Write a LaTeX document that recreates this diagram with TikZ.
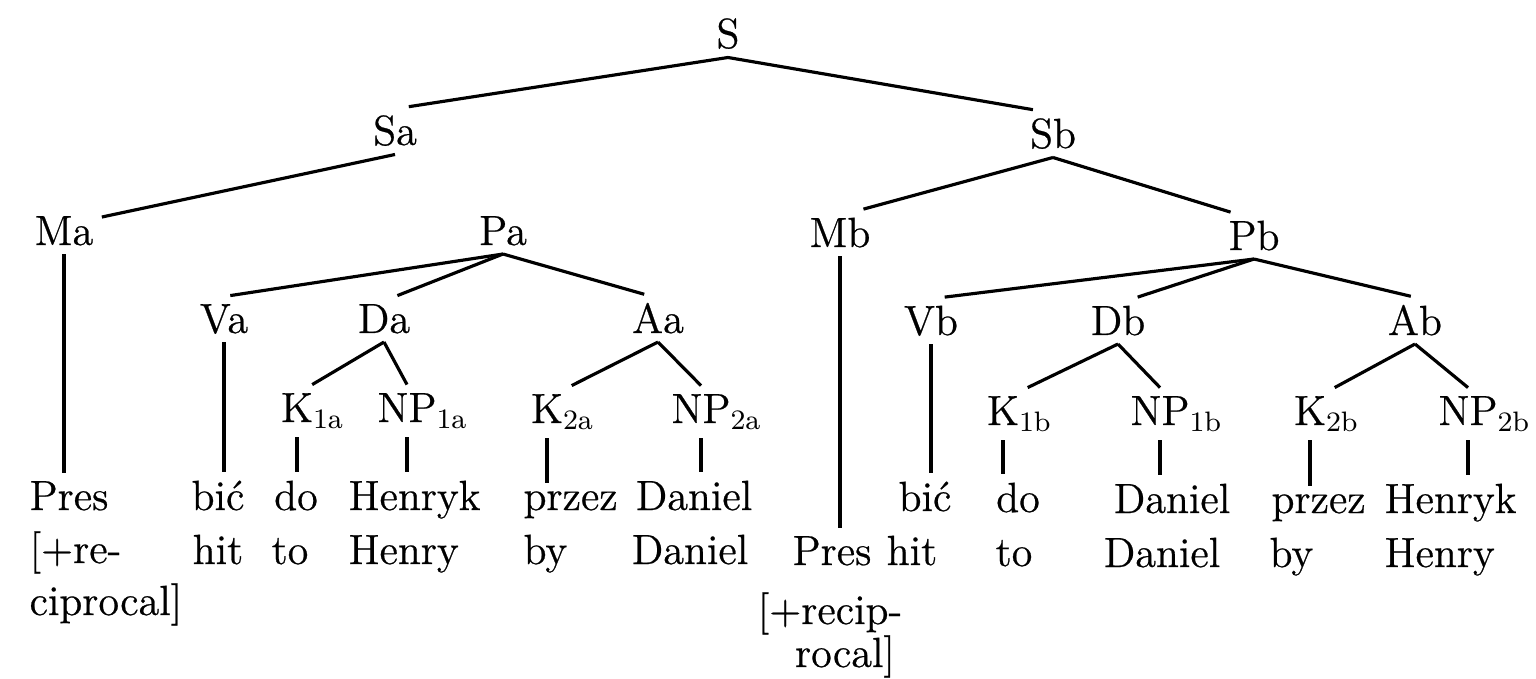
\documentclass[tikz,border=0pt]{standalone}
\usepackage{fontspec}
\usepackage{tikz}
\newfontfamily\scanfont{lmroman12-regular.otf}[FakeBold=0.6]
\newcommand{\lsub}[1]{\rlap{$_{\mathrm{#1}}$}}

\begin{document}
\begin{tikzpicture}[line width=0.9pt,
  lbl/.style={anchor=base, inner sep=2pt, font=\fontsize{12}{14}\scanfont},
  lft/.style={lbl, anchor=base west}]
\useasboundingbox (0,0) rectangle (15.36,-6.79);
% upper tree
\node[lbl] (S) at (7.28,-0.48) {S};
\node[lbl] (Sa) at (3.95,-1.45) {Sa};
\node[lbl] (Sb) at (10.53,-1.48) {Sb};
\node[lbl] (Ma) at (0.64,-2.45) {Ma};
\node[lbl] (Pa) at (5.03,-2.45) {Pa};
\node[lbl] (Mb) at (8.40,-2.47) {Mb};
\node[lbl] (Pb) at (12.54,-2.50) {Pb};
\node[lbl] (Va) at (2.24,-3.33) {Va};
\node[lbl] (Da) at (3.84,-3.33) {Da};
\node[lbl] (Aa) at (6.58,-3.33) {Aa};
\node[lbl] (Vb) at (9.31,-3.35) {Vb};
\node[lbl] (Db) at (11.18,-3.35) {Db};
\node[lbl] (Ab) at (14.15,-3.35) {Ab};
\node[lbl] (K1a) at (2.97,-4.22) {K\lsub{1a}};
\node[lbl] (NP1a) at (4.07,-4.22) {NP\lsub{1a}};
\node[lbl] (K2a) at (5.47,-4.23) {K\lsub{2a}};
\node[lbl] (NP2a) at (7.01,-4.23) {NP\lsub{2a}};
\node[lbl] (K1b) at (10.03,-4.25) {K\lsub{1b}};
\node[lbl] (NP1b) at (11.60,-4.25) {NP\lsub{1b}};
\node[lbl] (K2b) at (13.10,-4.25) {K\lsub{2b}};
\node[lbl] (NP2b) at (14.68,-4.25) {NP\lsub{2b}};
% words and glosses
\node[lft] (PresA) at (0.21,-5.10) {Pres};
\node[lft] (recA) at (0.21,-5.63) {[+re-};
\node[lft] (cipA) at (0.21,-6.15) {ciprocal]};
\node[lbl] (bicA) at (2.18,-5.10) {bić};
\node[lbl] (hitA) at (2.18,-5.64) {hit};
\node[lbl] (doA) at (2.96,-5.10) {do};
\node[lbl] (toA) at (2.90,-5.64) {to};
\node[lft] (HenrykA) at (3.40,-5.10) {Henryk};
\node[lft] (HenryA) at (3.40,-5.64) {Henry};
\node[lft] (przezA) at (5.15,-5.10) {przez};
\node[lft] (byA) at (5.15,-5.64) {by};
\node[lbl] (DanielA) at (6.94,-5.10) {Daniel};
\node[lbl] (DanglA) at (6.90,-5.64) {Daniel};
\node[lbl] (PresB) at (8.32,-5.65) {Pres};
\node[lbl] (recB) at (8.30,-6.24) {[+recip-};
\node[lbl] (cipB) at (8.45,-6.67) {rocal]};
\node[lbl] (bicB) at (9.25,-5.11) {bić};
\node[lbl] (hitB) at (9.12,-5.65) {hit};
\node[lbl] (doB) at (10.18,-5.12) {do};
\node[lbl] (toB) at (10.14,-5.66) {to};
\node[lbl] (DanielB) at (11.72,-5.13) {Daniel};
\node[lbl] (DanglB) at (11.62,-5.67) {Daniel};
\node[lft] (przezB) at (12.63,-5.13) {przez};
\node[lft] (byB) at (12.61,-5.67) {by};
\node[lft] (HenrykB) at (13.76,-5.13) {Henryk};
\node[lft] (HenryB) at (13.76,-5.67) {Henry};
% branches
\draw (S.south) -- (Sa.60);
\draw (S.south) -- (Sb.130);
\draw (Sa.south) -- (Ma.20);
\draw (Sb.south) -- (Mb.45);
\draw (Sb.south) -- (Pb.135);
\draw (Pa.south) -- (Va.75);
\draw (Pa.south) -- (Da.60);
\draw (Pa.south) -- (Aa.120);
\draw (Pb.south) -- (Vb.60);
\draw (Pb.south) -- (Db.50);
\draw (Pb.south) -- (Ab.100);
\draw (Da.south) -- (K1a.60);
\draw (Da.south) -- (NP1a.north);
\draw (Aa.south) -- (K2a.north east);
\draw (Aa.south) -- (NP2a.north);
\draw (Db.south) -- (K1b.north east);
\draw (Db.south) -- (NP1b.north);
\draw (Ab.south) -- (K2b.north east);
\draw (Ab.south) -- (NP2b.north);
% vertical stems
\draw (Ma.south) -- (Ma.south |- PresA.north);
\draw (Va.south) -- (Va.south |- bicA.north);
\draw (Mb.south) -- (Mb.south |- PresB.north);
\draw (Vb.south) -- (Vb.south |- bicB.north);
\foreach \pt/\w in {K1a/doA, NP1a/HenrykA, K2a/przezA, NP2a/DanielA,
                    K1b/doB, NP1b/DanielB, K2b/przezB, NP2b/HenrykB}
  \draw (\pt.south) -- (\pt.south |- \w.north);
\end{tikzpicture}
\end{document}
